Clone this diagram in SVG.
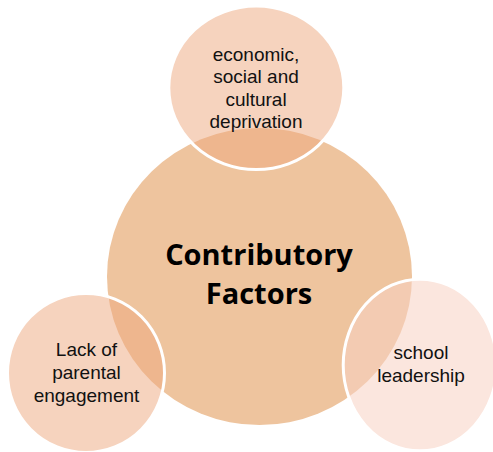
<svg xmlns="http://www.w3.org/2000/svg" width="493" height="452" viewBox="0 0 493 452">
<style>
.sat{stroke:#FFFFFF;stroke-width:3}
.warm{fill:#EDA77D;fill-opacity:0.5}
.light{fill:#F8D2C3;fill-opacity:0.55}
.lbl{font-family:"Liberation Sans",Arial,sans-serif;font-size:19px;fill:#111111;text-anchor:middle}
.main{font-family:"Open Sans","Liberation Sans",sans-serif;font-size:29px;font-weight:bold;fill:#000000;text-anchor:middle}
</style>
<rect width="493" height="452" fill="#FFFFFF"/>
<g id="center">
<ellipse cx="259.5" cy="276.5" rx="152.5" ry="148.5" fill="#EEC49E"/>
</g>
<g id="top">
<ellipse class="sat warm" cx="256.3" cy="87.8" rx="87.5" ry="81.8"/>
<text class="lbl" x="256" y="61">economic,</text>
<text class="lbl" x="256" y="83.3">social and</text>
<text class="lbl" x="256" y="105.6">cultural</text>
<text class="lbl" x="256" y="128">deprivation</text>
</g>
<g id="left">
<ellipse class="sat warm" cx="86" cy="373" rx="78.5" ry="79.5"/>
<text class="lbl" x="86.5" y="356">Lack of</text>
<text class="lbl" x="86.5" y="379">parental</text>
<text class="lbl" x="86.5" y="401.7">engagement</text>
</g>
<g id="right">
<ellipse class="sat light" cx="420" cy="365" rx="76.8" ry="85.8"/>
<text class="lbl" x="421" y="359">school</text>
<text class="lbl" x="421" y="382">leadership</text>
</g>
<g id="labels">
<text class="main" x="259" y="265">Contributory</text>
<text class="main" x="259" y="304">Factors</text>
</g>
<g id="connectors"></g>
</svg>
